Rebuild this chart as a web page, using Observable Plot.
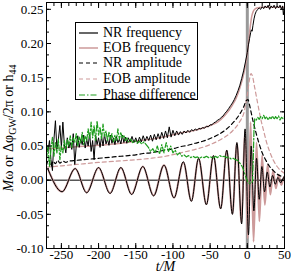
<!DOCTYPE html>
<html><head><meta charset="utf-8">
<script src="https://cdn.jsdelivr.net/npm/d3@7"></script>
<script src="https://cdn.jsdelivr.net/npm/@observablehq/plot@0.6"></script>
<style>
body{margin:0;background:#fff;}
#wrap{position:relative;width:291px;height:276px;}
#legend{position:absolute;left:75px;top:22px;width:123px;height:78px;border:1px solid #000;background:#fff;box-sizing:border-box;}
.row{position:absolute;left:0;height:16px;font-size:14px;line-height:16px;white-space:nowrap;color:#000;}
.row svg{position:absolute;left:3px;top:0;}
.row span{position:absolute;left:27px;top:0;}
</style></head><body><div id="wrap"></div>
<script>
const FONT = "Liberation Serif, Times New Roman, serif";
// ---- series names / legend ----
const seriesNames = ["NR frequency", "EOB frequency", "NR amplitude", "EOB amplitude", "Phase difference"];
const seriesColors = ["#000000", "#cd9a9a", "#000000", "#cd9a9a", "#1e9e1e"];
const seriesDash = [null, null, "4,3", "4,3", "6,2,1.5,2"];

// ---- ticks ----
const xMajorTicks = [-250, -200, -150, -100, -50, 0, 50];
const yMajorTicks = [-0.10, -0.05, 0.00, 0.05, 0.10, 0.15, 0.20, 0.25];

// ---- NR frequency ----
const tFreqNR = [-270,-268,-266,-264,-262,-260,-258,-256,-254,-252,-250,-248,-246,-244,-242,-240,-238,-236,-234,-232,-230,-228,-226,-224,-222,-220,-218,-216,-214,-212,-210,-208,-206,-204,-202,-200,-198,-196,-194,-192,-190,-188,-186,-184,-182,-180,-178,-176,-174,-172,-170,-168,-166,-164,-162,-160,
-157.5,-155,-152.5,-150,-147.5,-145,-142.5,-140,-137.5,-135,-132.5,-130,-127.5,-125,-122.5,-120,-117.5,-115,-112.5,-110,-107.5,-105,-102.5,-100,-97.5,-95,-92.5,-90,-87.5,-85,-82.5,-80,-77.5,-75,-72.5,-70,-67.5,-65,-62.5,-60,-57.5,-55,-52.5,-50,-47.5,-45,-42.5,-40,-37.5,-35,-32.5,-30,-27.5,-25,-22.5,-20,-17.5,-15,-12.5,-10,-7.5,-5,-2.5,0,1.5,3,4.5,5.5,6.5,7.5,9,10.5,12,14,16,18,20,22,24,26,28,30,32,34,36,38,40,42,44,46,47.5,48.5,50];
const vFreqNR = [0.050,0.042,0.058,0.030,0.014,0.060,0.087,0.045,0.060,0.080,0.048,0.085,0.052,0.040,0.062,0.047,0.055,0.045,0.068,0.023,0.050,0.065,0.048,0.060,0.052,0.066,0.047,0.060,0.050,0.068,0.042,0.058,0.030,0.066,0.052,0.062,0.048,0.064,0.050,0.067,0.053,0.060,0.051,0.066,0.054,0.062,0.052,0.064,0.055,0.060,0.053,0.066,0.055,0.063,0.054,0.062,
0.056,0.064,0.055,0.062,0.054,0.063,0.056,0.065,0.057,0.064,0.058,0.066,0.057,0.067,0.059,0.068,0.060,0.070,0.061,0.072,0.062,0.078,0.063,0.073,0.065,0.072,0.066,0.071,0.067,0.072,0.069,0.073,0.070,0.074,0.072,0.075,0.073,0.076,0.075,0.077,0.076,0.079,0.078,0.081,0.081,0.084,0.085,0.088,0.089,0.092,0.094,0.098,0.101,0.105,0.109,0.113,0.118,0.124,0.131,0.139,0.149,0.160,0.173,0.187,0.198,0.207,0.216,0.220,0.218,0.226,0.236,0.243,0.247,0.250,0.252,0.250,0.254,0.251,0.255,0.252,0.256,0.250,0.255,0.252,0.256,0.251,0.255,0.252,0.256,0.250,0.255,0.242,0.254];

// ---- EOB frequency ----
const tFreqEOB = [-270,-250,-230,-210,-190,-170,-150,-130,-110,-90,-70,-50,-40,-30,-20,-15,-10,-6,-3,0,2,4,6,8,10,13,20,50];
const vFreqEOB = [0.046,0.047,0.049,0.050,0.052,0.054,0.057,0.060,0.064,0.069,0.073,0.080,0.085,0.095,0.110,0.120,0.135,0.150,0.165,0.185,0.205,0.225,0.240,0.247,0.250,0.252,0.253,0.253];

// ---- NR amplitude ----
const tAmpNR = [-270,-267,-264,-261,-258,-255,-252,-248,-244,-240,-230,-220,-210,-200,-190,-180,-170,-160,-150,-140,-130,-120,-110,-100,-90,-80,-70,-60,-50,-40,-30,-20,-10,-5,-1,1,3,5,8,12,16,20,25,30,35,40,45,50];
const vAmpNR = [0.022,0.030,0.020,0.028,0.024,0.029,0.025,0.028,0.026,0.028,0.029,0.030,0.031,0.032,0.033,0.034,0.035,0.036,0.037,0.039,0.040,0.042,0.044,0.046,0.049,0.051,0.054,0.057,0.061,0.066,0.073,0.083,0.097,0.107,0.117,0.118,0.110,0.100,0.085,0.068,0.053,0.040,0.029,0.020,0.014,0.009,0.006,0.004];

// ---- EOB amplitude ----
const tAmpEOB = [-270,-230,-200,-160,-130,-110,-90,-70,-50,-35,-20,-10,-5,0,3,5,7,10,14,18,22,26,30,35,40,45,50];
const vAmpEOB = [0.019,0.023,0.026,0.029,0.032,0.035,0.040,0.045,0.052,0.060,0.072,0.086,0.097,0.125,0.148,0.156,0.152,0.135,0.112,0.090,0.072,0.055,0.042,0.029,0.020,0.014,0.010];

// ---- Phase difference ----
const tPhase = [-270,-268,-266,-264,-262,-260,-258,-256,-254,-252,-250,-248,-246,-244,-242,-240,-238,-236,-234,-232,-230,-228,-226,-224,-222,-220,-218,-216,-214,-212,-210,-208,-206,-204,-202,-200,-198,-196,-194,-192,-190,-188,-186,-184,-182,-180,-178,-176,-174,-172,-170,-168,-166,-164,-162,-160,
-157,-154,-151,-148,-145,-142,-139,-136,-133,-130,-127,-124,-121,-118,-115,-112,-109,-106,-103,-100,-97,-94,-91,-88,-85,-82,-79,-76,-73,-70,-67,-64,-61,-58,-55,-52,-49,-46,-43,-40,-37,-34,-31,-28,-25,-22,-19,-16,-13,-10,-7,-5,-3,-1,1,3,5,7,8,9,10,12,14,16,18,20,22,24,26,28,30,32,34,36,38,40,42,44,46,48,50];
const vPhase = [0.030,0.050,0.020,0.045,0.063,0.035,0.055,0.040,0.060,0.030,0.050,0.040,0.058,0.045,0.060,0.050,0.065,0.048,0.062,0.055,0.068,0.050,0.063,0.055,0.070,0.052,0.065,0.058,0.075,0.060,0.085,0.062,0.080,0.058,0.087,0.066,0.078,0.060,0.082,0.064,0.072,0.058,0.070,0.060,0.068,0.056,0.066,0.058,0.075,0.060,0.070,0.062,0.066,0.058,0.062,0.056,
0.060,0.055,0.058,0.054,0.057,0.053,0.056,0.052,0.048,0.042,0.046,0.040,0.050,0.038,0.052,0.040,0.055,0.042,0.050,0.040,0.044,0.037,0.040,0.035,0.037,0.034,0.036,0.033,0.035,0.033,0.034,0.032,0.034,0.033,0.035,0.033,0.034,0.032,0.035,0.033,0.036,0.034,0.035,0.033,0.034,0.031,0.032,0.030,0.029,0.025,0.020,0.015,0.008,0.001,-0.003,-0.005,-0.004,-0.002,0.030,0.075,0.090,0.088,0.092,0.089,0.093,0.090,0.095,0.090,0.093,0.088,0.092,0.090,0.094,0.089,0.093,0.090,0.094,0.088,0.092,0.090,0.093];

// ---- NR waveform (extrema of the oscillation) ----
const tWaveNR = [-268,-249,-231.5,-216,-200,-184.5,-170,-155.5,-140.5,-126,-112,-98.5,-86,-75.2,-65.5,-55,-45.5,-35.8,-27.6,-20,-14,-7.6,-3,1.6,5.2,8.8,12.4,16,19.6,23.2,26.8,30.4,34,37.6,41.2,44.8,48.4,52];
const vWaveNR = [0.016,-0.017,0.017,-0.0185,0.0185,-0.0195,0.0185,-0.021,0.020,-0.023,0.022,-0.026,0.027,-0.031,0.032,-0.036,0.036,-0.042,0.044,-0.050,0.055,-0.064,0.075,-0.080,0.050,-0.045,0.032,-0.028,0.020,-0.017,0.012,-0.010,0.007,-0.006,0.004,-0.004,0.003,-0.002];

// ---- EOB waveform (extrema of the oscillation) ----
const tWaveEOB = [-268,-249,-231.5,-216,-200,-184.5,-170,-155.5,-140.5,-126,-112,-98.5,-86,-75.2,-65.5,-55,-45.5,-35.8,-27.6,-20,-14,-7.8,-3.2,0.6,4.4,8.4,12.4,16.2,19.9,23.6,27.3,31,34.7,38.4,42.1,45.8,49.5,53];
const vWaveEOB = [0.016,-0.017,0.017,-0.018,0.018,-0.019,0.018,-0.0205,0.020,-0.0225,0.022,-0.0255,0.026,-0.030,0.031,-0.035,0.035,-0.041,0.043,-0.049,0.054,-0.062,0.072,-0.085,0.085,-0.090,0.055,-0.060,0.036,-0.036,0.023,-0.021,0.014,-0.012,0.008,-0.007,0.005,-0.003];

const rows = (ts, vs) => ts.map((t, i) => ({t, v: vs[i]}));
const xMinorTicks = d3.range(-270, 51, 10);
const yMinorTicks = d3.range(0, 22).map(k => -0.1 + k * 0.05 / 3);
const pink = seriesColors[1], green = seriesColors[4];

const chart = Plot.plot({
  width: 291, height: 276,
  marginLeft: 46, marginRight: 7, marginTop: 2, marginBottom: 28,
  x: {domain: [-270, 50]},
  y: {domain: [-0.1, 0.26]},
  style: {fontFamily: FONT, fontSize: "13px", color: "#000", background: "#fff", overflow: "visible"},
  marks: [
    Plot.ruleX([0], {stroke: "#999", strokeWidth: 3}),
    Plot.ruleY([0], {stroke: "#000", strokeWidth: 1}),
    Plot.line(rows(tWaveEOB, vWaveEOB), {x: "t", y: "v", stroke: pink, strokeWidth: 2, curve: "monotone-x", clip: true}),
    Plot.line(rows(tWaveNR, vWaveNR), {x: "t", y: "v", stroke: "#000", strokeWidth: 1, curve: "monotone-x", clip: true}),
    Plot.line(rows(tAmpEOB, vAmpEOB), {x: "t", y: "v", stroke: pink, strokeWidth: 1.2, strokeDasharray: seriesDash[3], curve: "monotone-x", clip: true}),
    Plot.line(rows(tAmpNR, vAmpNR), {x: "t", y: "v", stroke: "#000", strokeWidth: 1.2, strokeDasharray: seriesDash[2], curve: "monotone-x", clip: true}),
    Plot.line(rows(tFreqEOB, vFreqEOB), {x: "t", y: "v", stroke: pink, strokeWidth: 1.5, curve: "monotone-x", clip: true}),
    Plot.line(rows(tFreqNR, vFreqNR), {x: "t", y: "v", stroke: "#000", strokeWidth: 1, clip: true}),
    Plot.line(rows(tPhase, vPhase), {x: "t", y: "v", stroke: green, strokeWidth: 1.2, strokeDasharray: seriesDash[4], clip: true}),
    Plot.frame({stroke: "#000", strokeWidth: 1}),
    Plot.axisX(xMajorTicks, {anchor: "bottom", tickSize: 0, tickPadding: 1, tickFormat: d => String(d), label: null, fontSize: 13, fontFamily: FONT}),
    Plot.axisX(xMajorTicks, {anchor: "bottom", tickSize: -5, tickFormat: () => "", label: null}),
    Plot.axisX(xMinorTicks, {anchor: "bottom", tickSize: -3, tickFormat: () => "", label: null}),
    Plot.axisX(xMajorTicks, {anchor: "top", tickSize: -5, tickFormat: () => "", label: null}),
    Plot.axisX(xMinorTicks, {anchor: "top", tickSize: -3, tickFormat: () => "", label: null}),
    Plot.axisY(yMajorTicks, {anchor: "left", tickSize: 0, tickPadding: 3, tickFormat: d => d.toFixed(2), label: null, fontSize: 13, fontFamily: FONT}),
    Plot.axisY(yMajorTicks, {anchor: "left", tickSize: -5, tickFormat: () => "", label: null}),
    Plot.axisY(yMinorTicks, {anchor: "left", tickSize: -3, tickFormat: () => "", label: null}),
    Plot.axisY(yMajorTicks, {anchor: "right", tickSize: -5, tickFormat: () => "", label: null}),
    Plot.axisY(yMinorTicks, {anchor: "right", tickSize: -3, tickFormat: () => "", label: null}),
    Plot.text(["t/M"], {frameAnchor: "bottom", dy: 22.5, fontStyle: "italic", fontSize: 14, fontFamily: FONT})
  ]
});

const wrap = document.getElementById("wrap");
wrap.appendChild(chart);

// rotated y label with rich text
const svg = d3.select(chart);
const yl = svg.append("text")
  .attr("transform", "translate(13,128) rotate(-90)")
  .attr("text-anchor", "middle")
  .attr("font-family", FONT)
  .attr("font-size", 14).attr("fill", "#000");
yl.append("tspan").attr("font-style", "italic").text("M");
yl.append("tspan").text("ω or Δφ");
yl.append("tspan").attr("font-size", 10).attr("dy", 3).text("GW");
yl.append("tspan").attr("dy", -3).text("/2π or h");
yl.append("tspan").attr("font-size", 10).attr("dy", 3).text("44");

// legend box
const legend = document.createElement("div");
legend.id = "legend";
legend.style.fontFamily = FONT;
const rowTops = [1.5, 16.5, 32, 47.5, 63.5];
seriesNames.forEach((name, i) => {
  const r = document.createElement("div");
  r.className = "row";
  r.style.top = rowTops[i] + "px";
  r.style.fontFamily = FONT;
  const dash = seriesDash[i] ? ` stroke-dasharray="${seriesDash[i]}"` : "";
  r.innerHTML = `<svg width="20" height="16"><line x1="0" y1="8" x2="19" y2="8" stroke="${seriesColors[i]}" stroke-width="${i === 1 ? 1.5 : 1.2}"${dash}/></svg><span style="font-family:${FONT}">${name}</span>`;
  legend.appendChild(r);
});
wrap.appendChild(legend);
</script>
</body></html>
